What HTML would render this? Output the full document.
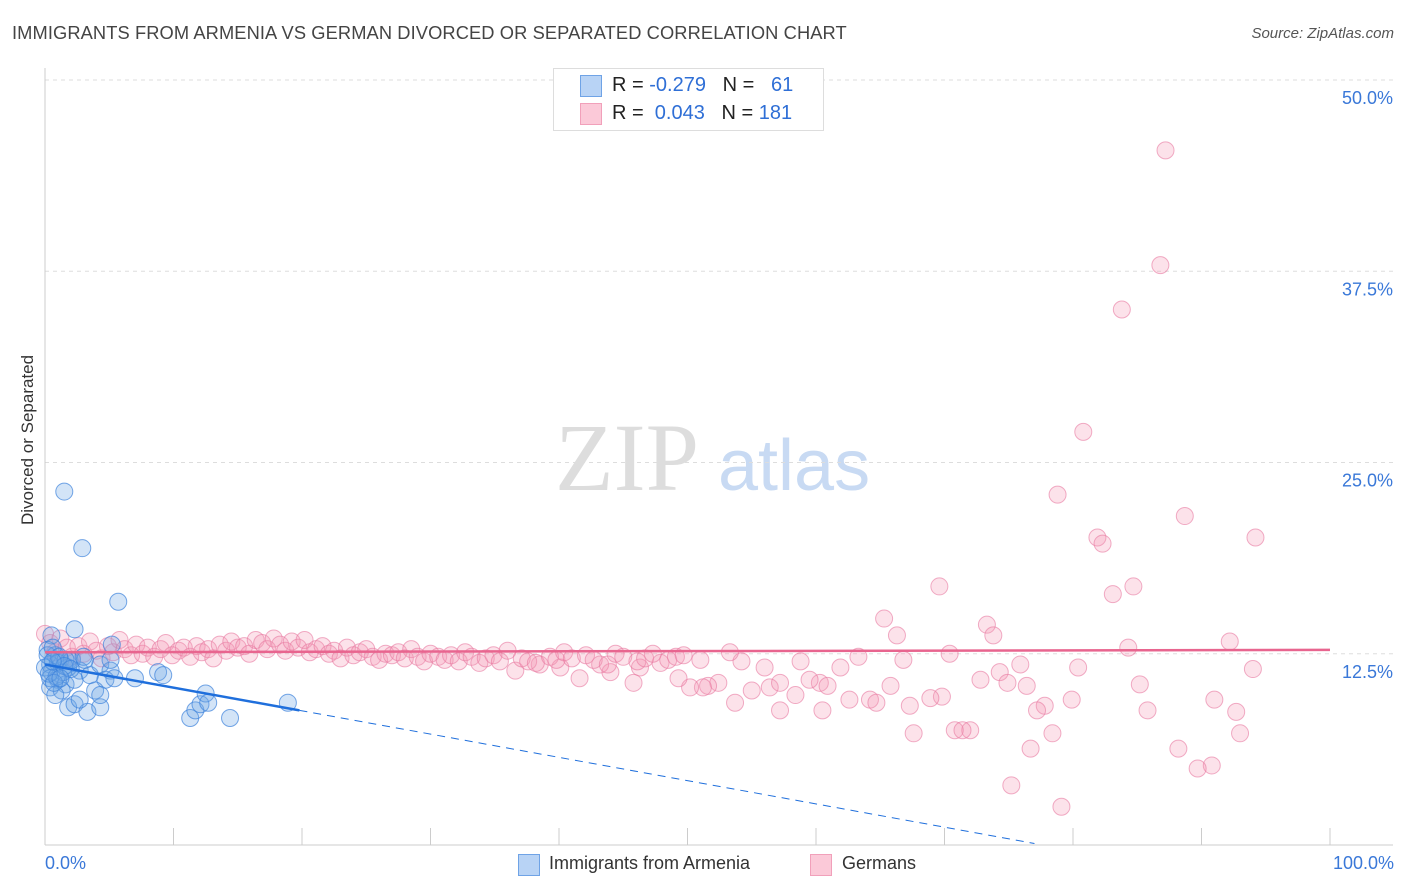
<!DOCTYPE html>
<html><head><meta charset="utf-8">
<style>
body{margin:0;background:#fff;font-family:"Liberation Sans",sans-serif;}
#wrap{position:relative;width:1406px;height:892px;overflow:hidden;}
.t{position:absolute;white-space:nowrap;}
</style></head>
<body><div id="wrap">
<div class="t" style="left:12px;top:22px;font-size:18.3px;color:#444;letter-spacing:0.1px">IMMIGRANTS FROM ARMENIA VS GERMAN DIVORCED OR SEPARATED CORRELATION CHART</div>
<div class="t" style="right:12px;top:25px;font-size:15px;color:#555;font-style:italic">Source: ZipAtlas.com</div>
<div class="t" style="left:-42px;top:445px;font-size:17px;color:#333;transform:rotate(-90deg);width:140px;text-align:center">Divorced or Separated</div>
<svg id="plot" width="1406" height="892" style="position:absolute;left:0;top:0">
<text x="555" y="490" font-family="Liberation Serif,serif" font-size="96" fill="#ddd">ZIP</text>
<text x="718" y="490" font-family="Liberation Sans,sans-serif" font-size="72" fill="#c8daf3">atlas</text>
</svg>
<div class="t" style="left:553px;top:68px;width:269px;height:61px;border:1px solid #ddd;background:#fff"></div>
<div class="t" style="left:580px;top:75px;width:20px;height:20px;background:#b8d3f5;border:1px solid #6fa3e6"></div>
<div class="t" style="left:580px;top:103px;width:20px;height:20px;background:#fbc9d8;border:1px solid #f1a0ba"></div>
<div class="t" style="left:612px;top:74px;font-size:20px;color:#222">R = <span style="color:#2f6fd6">-0.279</span>&nbsp;&nbsp;&nbsp;N = &nbsp;&nbsp;<span style="color:#2f6fd6">61</span></div>
<div class="t" style="left:612px;top:102px;font-size:20px;color:#222">R = &nbsp;<span style="color:#2f6fd6">0.043</span>&nbsp;&nbsp;&nbsp;N = <span style="color:#2f6fd6">181</span></div>
<div class="t" style="left:45px;top:853px;font-size:18px;color:#3a78d8">0.0%</div>
<div class="t" style="right:12px;top:853px;font-size:18px;color:#3a78d8">100.0%</div>
<div class="t" style="left:518px;top:854px;width:20px;height:20px;background:#b8d3f5;border:1px solid #6fa3e6"></div>
<div class="t" style="left:549px;top:853px;font-size:18px;color:#333">Immigrants from Armenia</div>
<div class="t" style="left:810px;top:854px;width:20px;height:20px;background:#fbc9d8;border:1px solid #f1a0ba"></div>
<div class="t" style="left:842px;top:853px;font-size:18px;color:#333">Germans</div>
</div>
<script>
const yTicks=[12.5,25,37.5,50];
const yTickLabels=["12.5%","25.0%","37.5%","50.0%"];
const xTicks=[0,10,20,30,40,50,60,70,80,90,100];
const blueX=[1.5,2.9,5.7,2.3,0.5,5.2,0.2,0.8,1.2,0.4,1.9,2.7,0.5,1.0,1.6,0.4,1.3,0.8,2.3,3.5,4.3,5.1,4.7,5.4,3.9,7.0,8.8,9.2,1.8,2.3,3.3,4.3,2.7,11.3,11.7,12.1,12.5,12.7,14.4,18.9,0.2,0.6,1.0,1.4,1.8,2.1,3.1,0.0,0.4,1.6,4.3,5.1,0.9,1.1,0.3,0.7,1.5,2.0,0.6,1.2,3.0];
const blueY=[23.1,19.4,15.9,14.1,13.7,13.1,12.75,12.4,12.1,11.8,12.1,11.4,11.3,10.8,10.5,10.3,10.1,9.8,10.8,11.1,11.8,11.4,10.8,10.9,10.1,10.9,11.3,11.1,9.0,9.2,8.7,9.0,9.5,8.3,8.8,9.2,9.9,9.3,8.3,9.3,12.4,12.9,11.9,11.3,11.6,12.1,12.1,11.6,10.9,12.1,9.8,12.1,11.0,12.3,11.2,10.6,11.7,11.5,12.0,10.9,12.3];
const pinkX=[87.2,86.8,83.8,80.8,78.8,88.7,81.9,82.3,94.2,84.7,83.1,69.6,65.3,66.3,73.3,73.8,92.2,84.3,70.4,75.9,80.4,94.0,74.3,72.8,74.9,76.4,85.2,79.9,77.8,77.2,85.8,92.7,69.8,68.9,67.3,91.0,72.0,70.8,71.4,67.6,78.4,93.0,76.7,88.2,90.8,89.7,75.2,79.1,64.2,64.7,62.6,60.5,60.3,60.9,58.4,59.5,57.2,56.4,56.0,55.0,53.7,54.2,52.4,51.6,51.2,50.2,49.3,47.9,46.3,45.8,44.0,43.2,41.6,40.1,38.5,36.6,65.8,66.8,63.3,61.9,58.8,57.2,53.3,51.0,
0,0.4,0.8,1.2,1.7,2.1,2.6,3.0,3.5,4.0,4.4,4.9,5.3,5.8,6.2,6.7,7.1,7.6,8.0,8.5,9.0,9.4,9.9,10.4,10.8,11.3,11.8,12.2,12.7,13.1,13.6,14.1,14.5,15.0,15.5,15.9,16.4,16.9,17.3,17.8,18.3,18.7,19.2,19.7,20.2,20.6,21.1,21.6,22.1,22.5,23.0,23.5,24.0,24.5,25.0,25.5,26.0,26.5,27.0,27.5,28.0,28.5,29.0,29.5,30.0,30.6,31.1,31.6,32.2,32.7,33.2,33.8,34.3,34.9,35.4,36.0,37.1,37.6,38.2,39.3,39.8,40.4,41.0,42.1,42.7,43.8,44.4,45.0,46.1,46.7,47.3,48.5,49.1,49.7];
const pinkY=[45.4,37.9,35.0,27.0,22.9,21.5,20.1,19.7,20.1,16.9,16.4,16.9,14.8,13.7,14.4,13.7,13.3,12.9,12.5,11.8,11.6,11.5,11.3,10.8,10.6,10.4,10.5,9.5,9.1,8.8,8.8,8.7,9.7,9.6,9.1,9.5,7.5,7.5,7.5,7.3,7.3,7.3,6.3,6.3,5.2,5.0,3.9,2.5,9.5,9.3,9.5,8.8,10.6,10.4,9.8,10.8,8.8,10.3,11.6,10.1,9.3,12.0,10.6,10.4,10.3,10.3,10.9,11.9,11.6,10.6,11.3,11.8,10.9,11.6,11.8,11.4,10.4,12.1,12.3,11.6,12.0,10.6,12.6,12.1,
13.8,13.2,12.6,13.5,12.9,12.3,13.0,12.5,13.3,12.7,12.2,13.0,12.6,13.4,12.8,12.4,13.1,12.5,12.9,12.3,12.8,13.2,12.4,12.7,12.9,12.3,13.0,12.6,12.8,12.2,13.1,12.7,13.3,12.9,13.0,12.5,13.4,13.2,12.8,13.5,13.1,12.7,13.3,12.9,13.4,12.6,12.8,13.0,12.5,12.7,12.2,12.9,12.4,12.6,12.8,12.3,12.1,12.5,12.4,12.6,12.2,12.8,12.3,12.0,12.5,12.3,12.1,12.4,12.0,12.6,12.3,11.9,12.2,12.4,12.0,12.7,12.2,12.0,11.9,12.3,12.1,12.6,12.2,12.4,12.1,11.8,12.5,12.3,12.0,12.2,12.5,12.1,12.3,12.4];
const blueTrend=[0,11.8,19.8,8.8,77,0.1];
const pinkTrend=[0,12.6,100,12.75];
const NS="http://www.w3.org/2000/svg";
const svg=document.getElementById('plot');
const X0=45,X1=1330,Y0=845,PY=15.3;
const sx=v=>X0+v*(X1-X0)/100, sy=v=>Y0-v*PY;
function mk(tag,attrs){const e=document.createElementNS(NS,tag);for(const k in attrs)e.setAttribute(k,attrs[k]);svg.appendChild(e);return e;}
yTicks.forEach((t,i)=>{
 const g=mk('line',{x1:X0,x2:1393,y1:sy(t),y2:sy(t),stroke:'#ddd','stroke-dasharray':'4,4'});
 
 
 const tx=mk('text',{x:1393,y:sy(t)+24,'text-anchor':'end','font-size':18,fill:'#3a78d8','font-family':'Liberation Sans,sans-serif'});
 tx.textContent=yTickLabels[i];
 
 
});
const ax=mk('line',{x1:X0,x2:1393,y1:Y0,y2:Y0,stroke:'#ccc'});


const ay=mk('line',{x1:X0,x2:X0,y1:68,y2:Y0,stroke:'#ccc'});


xTicks.forEach(t=>{
 const l=mk('line',{x1:sx(t),x2:sx(t),y1:828,y2:Y0,stroke:'#ccc'});
 
 
});
pinkX.forEach((x,i)=>{
 const c=mk('circle',{cx:sx(x),cy:sy(pinkY[i]),r:8.5,fill:'rgba(244,150,180,0.28)',stroke:'rgba(232,120,160,0.6)','stroke-width':1});
 
 
});
blueX.forEach((x,i)=>{
 const c=mk('circle',{cx:sx(x),cy:sy(blueY[i]),r:8.5,fill:'rgba(110,165,230,0.3)',stroke:'rgba(60,130,220,0.7)','stroke-width':1});
 
 
});
const pt=mk('line',{x1:sx(pinkTrend[0]),y1:sy(pinkTrend[1]),x2:sx(pinkTrend[2]),y2:sy(pinkTrend[3]),stroke:'#e8658f','stroke-width':2.5});


const bt=mk('line',{x1:sx(blueTrend[0]),y1:sy(blueTrend[1]),x2:sx(blueTrend[2]),y2:sy(blueTrend[3]),stroke:'#1f6fdc','stroke-width':2.5});


const bd=mk('line',{x1:sx(blueTrend[2]),y1:sy(blueTrend[3]),x2:sx(blueTrend[4]),y2:sy(blueTrend[5]),stroke:'#1f6fdc','stroke-width':1,'stroke-dasharray':'8,6'});


</script>
</body></html>
